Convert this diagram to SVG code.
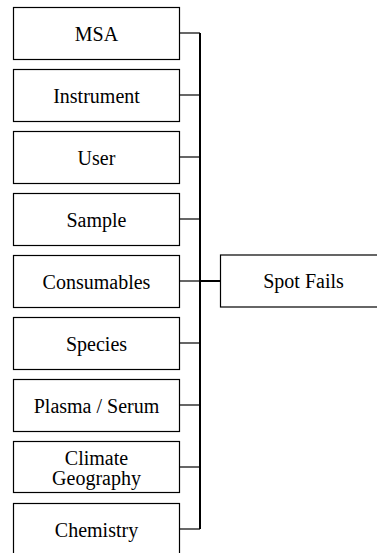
<svg xmlns="http://www.w3.org/2000/svg" width="377" height="553" viewBox="0 0 377 553">
<defs>
<style>
.box{fill:#ffffff;stroke:#000000;stroke-width:1.2}
.thin{stroke:#000000;stroke-width:1.2;fill:none}
.thick{stroke:#000000;stroke-width:2;fill:none}
.t{font-family:'Liberation Serif',serif;font-size:20px;text-anchor:middle;fill:#000000}
</style>
</defs>
<rect width="377" height="553" fill="#ffffff"/>
<g id="connectors">
<line class="thick" x1="200" y1="33" x2="200" y2="529"/>
<line class="thin" x1="179.5" y1="33" x2="200" y2="33"/>
<line class="thin" x1="179.5" y1="95" x2="200" y2="95"/>
<line class="thin" x1="179.5" y1="157" x2="200" y2="157"/>
<line class="thin" x1="179.5" y1="219" x2="200" y2="219"/>
<line class="thin" x1="179.5" y1="281" x2="200" y2="281"/>
<line class="thin" x1="179.5" y1="343" x2="200" y2="343"/>
<line class="thin" x1="179.5" y1="405" x2="200" y2="405"/>
<line class="thin" x1="179.5" y1="467" x2="200" y2="467"/>
<line class="thin" x1="179.5" y1="529" x2="200" y2="529"/>
<line class="thick" x1="200" y1="281" x2="220.5" y2="281"/>
</g>
<g id="msa"><rect class="box" x="13.5" y="7.5" width="166" height="52"/><text class="t" x="96.5" y="40.5" style="font-family:'Liberation Serif',serif;font-size:20px">MSA</text></g>
<g id="instrument"><rect class="box" x="13.5" y="69.5" width="166" height="52"/><text class="t" x="96.5" y="102.5" style="font-family:'Liberation Serif',serif;font-size:20px">Instrument</text></g>
<g id="user"><rect class="box" x="13.5" y="131.5" width="166" height="52"/><text class="t" x="96.5" y="164.5" style="font-family:'Liberation Serif',serif;font-size:20px">User</text></g>
<g id="sample"><rect class="box" x="13.5" y="193.5" width="166" height="52"/><text class="t" x="96.5" y="226.5" style="font-family:'Liberation Serif',serif;font-size:20px">Sample</text></g>
<g id="consumables"><rect class="box" x="13.5" y="255.5" width="166" height="52"/><text class="t" x="96.5" y="288.5" style="font-family:'Liberation Serif',serif;font-size:20px">Consumables</text></g>
<g id="species"><rect class="box" x="13.5" y="317.5" width="166" height="52"/><text class="t" x="96.5" y="350.5" style="font-family:'Liberation Serif',serif;font-size:20px">Species</text></g>
<g id="plasma-serum"><rect class="box" x="13.5" y="379.5" width="166" height="52"/><text class="t" x="96.5" y="412.5" style="font-family:'Liberation Serif',serif;font-size:20px">Plasma / Serum</text></g>
<g id="climate-geography"><rect class="box" x="13.5" y="441.5" width="166" height="51"/><text class="t" x="96.5" y="465" style="font-family:'Liberation Serif',serif;font-size:20px">Climate</text><text class="t" x="96.5" y="485" style="font-family:'Liberation Serif',serif;font-size:20px">Geography</text></g>
<g id="chemistry"><rect class="box" x="13.5" y="503.5" width="166" height="52"/><text class="t" x="96.5" y="536.5" style="font-family:'Liberation Serif',serif;font-size:20px">Chemistry</text></g>
<g id="spot-fails"><rect class="box" x="220.5" y="255" width="166" height="52"/><text class="t" x="303.5" y="288" style="font-family:'Liberation Serif',serif;font-size:20px">Spot Fails</text></g>
</svg>
